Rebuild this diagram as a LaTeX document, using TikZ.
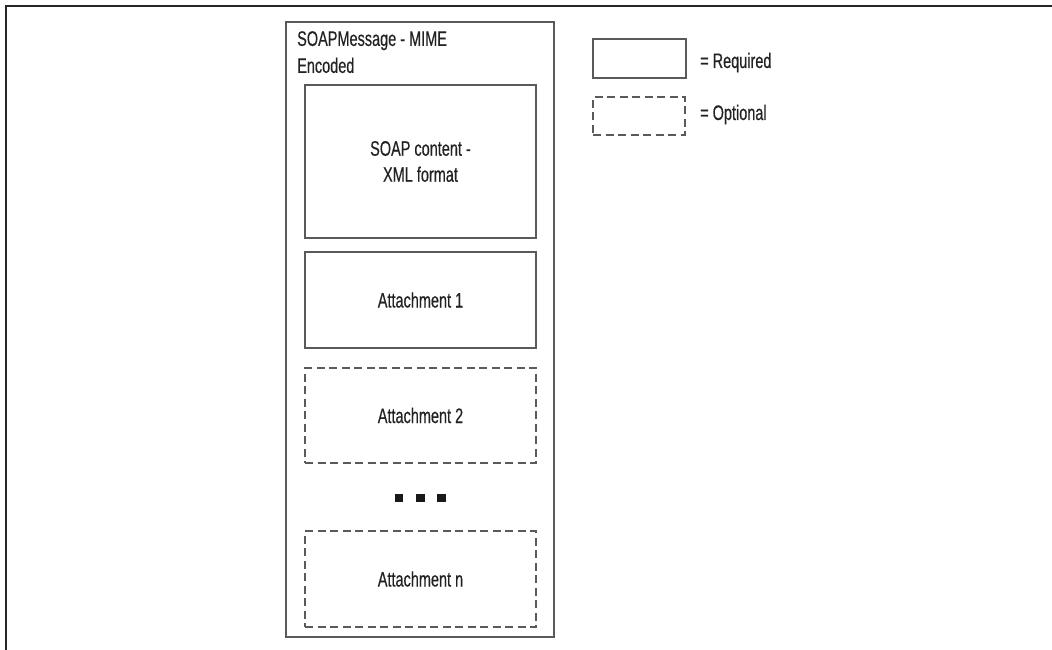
\documentclass[tikz,border=0pt]{standalone}
\usepackage{fontspec}
\newfontfamily\narrowsans{Liberation Sans}[FakeStretch=0.69, FakeBold=0.4]
\definecolor{boxline}{HTML}{5A5A5A}
\definecolor{inktext}{HTML}{222222}
\tikzset{
  part/.style={draw=boxline, line width=1.3pt, rectangle, inner sep=0pt,
    text=inktext, align=center, font=\narrowsans\fontsize{21}{26}\selectfont},
  required/.style={part},
  optional/.style={part, dash pattern=on 8pt off 4.5pt},
  legendtext/.style={inner sep=0pt, text=inktext, anchor=base west,
    font=\narrowsans\fontsize{21}{26}\selectfont},
  bullet/.style={fill=black!90, draw=none, minimum size=8.5pt, inner sep=0pt, rectangle}
}
\begin{document}
\begin{tikzpicture}[x=1pt, y=-1pt]
  \useasboundingbox (0,0) rectangle (1052,650);
  % cropped page frame
  \draw[line width=2pt, black!85] (6,650) -- (6,6) -- (1052,6);

  % MIME-encoded message envelope
  \node[part, minimum width=268pt, minimum height=615pt] (msg) at (420,329.5) {};
  \node[legendtext, anchor=north west, align=left,
        font=\narrowsans\fontsize{21}{27}\selectfont] (title) at (297,31)
        {SOAPMessage - MIME\\Encoded};

  % message parts
  \node[required, minimum width=231pt, minimum height=153pt] (soap) at (420.5,161.5)
        {SOAP content -\\XML format};
  \node[required, minimum width=231pt, minimum height=96pt] (att1) at (420.5,300)
        {Attachment 1};
  \node[optional, minimum width=231pt, minimum height=95pt] (att2) at (420.5,415.5)
        {Attachment 2};
  \node[bullet] (d1) at (399,498) {};
  \node[bullet] (d2) at (420.5,498) {};
  \node[bullet] (d3) at (441.5,498) {};
  \node[optional, minimum width=231pt, minimum height=96pt] (attn) at (420.5,579)
        {Attachment n};

  % legend
  \node[required, minimum width=93pt, minimum height=39pt] (lreq) at (639.5,58.5) {};
  \node[optional, minimum width=92pt, minimum height=38pt] (lopt) at (639,116) {};
  \node[legendtext] (treq) at (700,68) {= Required};
  \node[legendtext] (topt) at (700,120) {= Optional};
\end{tikzpicture}
\end{document}
